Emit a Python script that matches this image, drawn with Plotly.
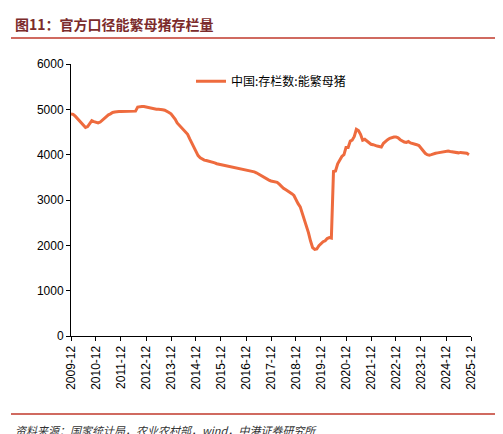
import plotly.graph_objects as go
import pandas as pd

start = "2009-12-01"  # monthly series starting 2009-12
v2009 = [4900]
v2010 = [4890,4850,4800,4750,4700,4650,4600,4620,4700,4750,4730,4720]
v2011 = [4700,4720,4760,4800,4850,4880,4900,4930,4940,4950,4950,4950]
v2012 = [4950,4950,4950,4950,4950,4950,4960,5050,5060,5060,5060,5050]
v2013 = [5040,5020,5010,5000,5000,5000,5000,4990,4980,4960,4930,4900]
v2014 = [4850,4780,4700,4650,4600,4550,4500,4450,4350,4250,4150,4050]
v2015 = [3980,3930,3900,3880,3870,3860,3850,3840,3820,3800,3790,3780]
v2016 = [3780,3770,3760,3750,3740,3730,3720,3710,3700,3690,3680,3670]
v2017 = [3660,3650,3640,3620,3600,3570,3550,3530,3500,3470,3440,3420]
v2018 = [3410,3400,3390,3350,3300,3260,3230,3200,3180,3140,3100,3000]
v2019 = [2920,2850,2720,2600,2460,2280,2100,1950,1910,1920,1990,2040]
v2020 = [2080,2100,2150,2170,2160,3630,3640,3800,3900,3960,4000,4160]
v2021 = [4160,4300,4320,4400,4560,4530,4450,4320,4340,4300,4280,4230]
v2022 = [4220,4200,4190,4180,4170,4250,4300,4330,4360,4380,4390,4390]
v2023 = [4370,4330,4300,4280,4270,4290,4260,4250,4240,4220,4200,4140]
v2024 = [4080,4030,4000,3990,4000,4020,4030,4040,4050,4060,4070,4080]
v2025 = [4080,4070,4060,4050,4050,4040,4050,4040,4040,4030,4000]
values = (v2009+v2010+v2011+v2012+v2013+v2014+v2015+v2016+v2017+v2018+v2019
          +v2020+v2021+v2022+v2023+v2024+v2025)
dates = pd.date_range(start, periods=len(values), freq="MS")
tick_labels = [f"{y}-12" for y in range(2009, 2026)]
tick_vals = [f"{y}-12-01" for y in range(2009, 2026)]

fig = go.Figure()
fig.add_trace(go.Scatter(x=dates, y=values, mode="lines", name="中国:存栏数:能繁母猪",
                         line=dict(color="#EE6B3E", width=3)))
fig.update_layout(
    width=503, height=434, paper_bgcolor="white", plot_bgcolor="white",
    margin=dict(l=63, r=40, t=56, b=106),
    font=dict(family="Noto Sans CJK SC, Liberation Sans", size=12, color="#000"),
    showlegend=True,
    legend=dict(x=0.5, y=0.99, xanchor="center", yanchor="top", bgcolor="rgba(0,0,0,0)",
                font=dict(size=12)),
    xaxis=dict(range=["2009-12-01", "2025-12-01"], tickvals=tick_vals, ticktext=tick_labels,
               tickangle=-90, showgrid=False, showline=True, linecolor="#000", ticks="outside",
               ticklen=4, tickcolor="#000", tickfont=dict(family="Liberation Sans", size=12)),
    yaxis=dict(range=[0, 6000], dtick=1000, showgrid=False, showline=True, linecolor="#000",
               ticks="outside", ticklen=4, tickcolor="#000",
               tickfont=dict(family="Liberation Sans", size=12)),
)
fig.add_annotation(text="<b>图11：官方口径能繁母猪存栏量</b>", xref="paper", yref="paper",
                   x=0, xshift=-58, y=1, yshift=52, xanchor="left", yanchor="top", showarrow=False,
                   font=dict(size=14, color="#7B2B2B", family="Noto Sans CJK SC"))
fig.add_shape(type="line", xref="paper", yref="paper", ysizemode="pixel", yanchor=1,
              x0=-0.15, x1=1.09, y0=26, y1=26, line=dict(color="#C0392B", width=1.5))
fig.add_annotation(text="<i>资料来源：国家统计局，农业农村部，wind，中港证券研究所</i>", xref="paper", yref="paper",
                   x=0, xshift=-58, y=0, yshift=-84, xanchor="left", yanchor="top", showarrow=False,
                   font=dict(size=11, color="#333", family="Noto Sans CJK SC"))
fig.add_shape(type="line", xref="paper", yref="paper", ysizemode="pixel", yanchor=0,
              x0=-0.15, x1=1.09, y0=-78, y1=-78, line=dict(color="#C0392B", width=1.5))
fig.write_html("out.html")
